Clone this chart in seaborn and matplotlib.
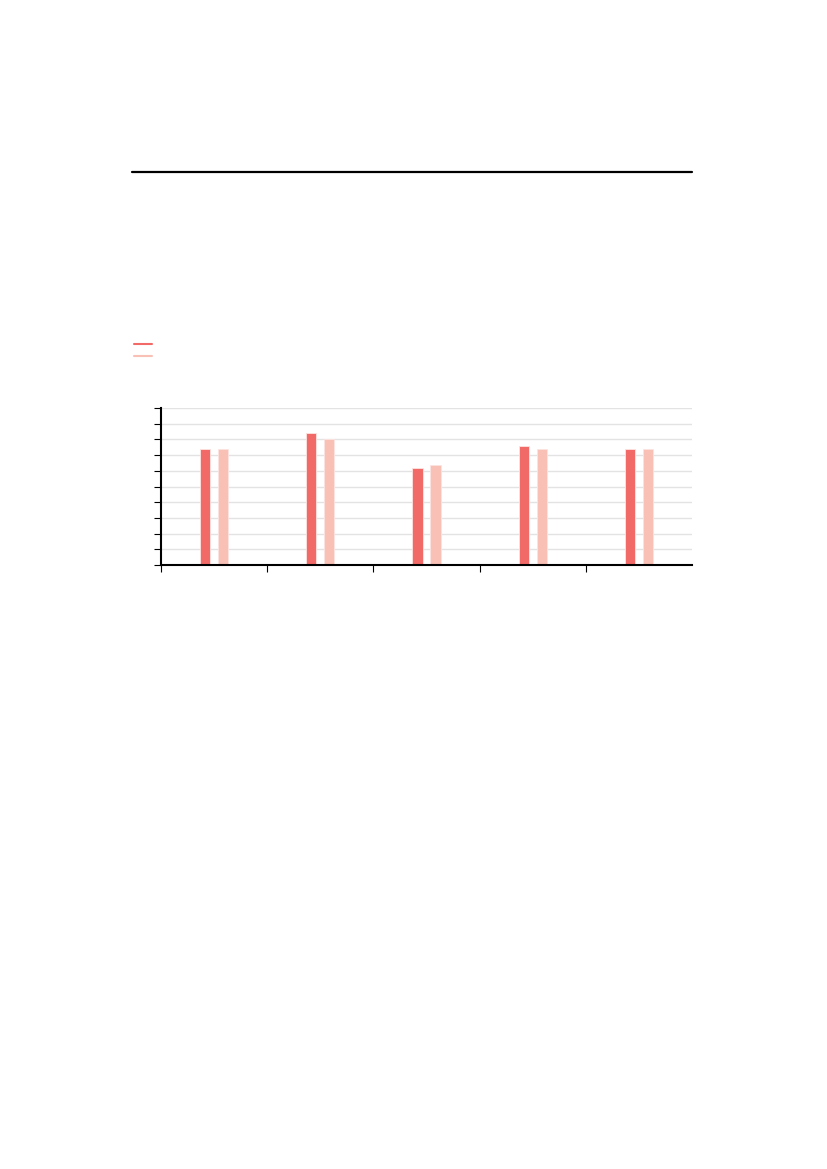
import numpy as np
import pandas as pd
import matplotlib
matplotlib.use('Agg')
import matplotlib.pyplot as plt
import seaborn as sns
from matplotlib.lines import Line2D

# data (no labels are shown in the reference)
categories = ['A', 'B', 'C', 'D', 'E']
series_1 = [74, 84, 62, 76, 74]
series_2 = [74, 80, 64, 74, 74]
series_names = ['s1', 's2']
colors = ['#f26a67', '#f9c0b6']

df = pd.DataFrame({
    'cat': categories * 2,
    'value': series_1 + series_2,
    'series': [series_names[0]] * len(categories) + [series_names[1]] * len(categories),
})

sns.set_style('white')
fig = plt.figure(figsize=(8.27, 11.69), dpi=100)
ax = fig.add_axes([161 / 827, 1 - 565 / 1169, (692 - 161) / 827, (565 - 408) / 1169])

sns.barplot(data=df, x='cat', y='value', hue='series', palette=colors,
            width=0.34, gap=0.44, ax=ax, legend=False, errorbar=None,
            linewidth=0.6, edgecolor='#fde3e0', saturation=1)

ax.set_xlim(-0.5, 4.5)
ax.set_ylim(0, 100)
ax.set_yticks(np.arange(0, 101, 10))
ax.set_xticks(np.arange(-0.5, 4, 1))
ax.set_xticklabels([])
ax.set_yticklabels([])
ax.set_xlabel('')
ax.set_ylabel('')
ax.yaxis.grid(True, color='#e3e3e3', linewidth=1)
ax.xaxis.grid(False)
ax.set_axisbelow(True)
for s in ['top', 'right']:
    ax.spines[s].set_visible(False)
for s in ['left', 'bottom']:
    ax.spines[s].set_color('black')
    ax.spines[s].set_linewidth(1.5)
ax.tick_params(axis='both', which='both', length=5, width=0.8, color='black',
               left=True, bottom=True, direction='out')

# title rule above the chart
fig.add_artist(Line2D([132 / 827, 692 / 827], [1 - 172 / 1169, 1 - 172 / 1169],
                      color='black', linewidth=1.6, transform=fig.transFigure))

# legend without text
handles = [Line2D([], [], color=c, linewidth=1.5) for c in colors]
fig.legend(handles, ['', ''], loc='upper left',
           bbox_to_anchor=(134 / 827, 1 - 340 / 1169), frameon=False,
           fontsize=8, handlelength=1.6, handletextpad=0, borderpad=0,
           borderaxespad=0, labelspacing=0.2)

fig.savefig('out.png', dpi=100)
